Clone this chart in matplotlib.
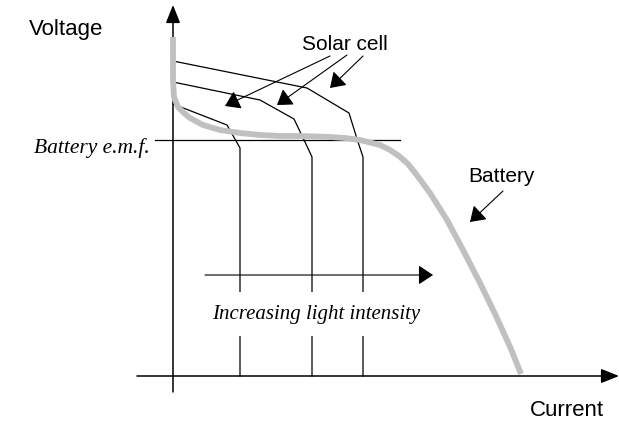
# 태양전지 / 배터리 전압-전류 특성 개념도
# ↓
# 곡선 데이터 정의
# ↓
# 그래프 그리기 -> out.png

import matplotlib
matplotlib.use("Agg")
import matplotlib.pyplot as plt

# 좌표 단위: 전류(가로), 전압(세로) - 임의 단위
# 배터리 특성 곡선 (회색 굵은 선)
battery_current = [0.0, 0.0, 0.0, 0.1, 0.5, 1.1, 1.7, 3.0, 4.7, 6.7, 8.7,
                   10.7, 12.7, 15.7, 17.2, 18.7, 20.7, 21.7, 22.6, 23.5,
                   24.3, 25.7, 27.4, 29.0, 30.7, 32.3, 33.8, 34.8]
battery_voltage = [33.9, 31.6, 29.6, 27.9, 26.9, 26.3, 25.8, 25.1, 24.6,
                   24.3, 24.1, 24.0, 24.0, 23.9, 23.8, 23.6, 23.1, 22.6,
                   22.0, 21.2, 20.2, 18.3, 15.6, 12.6, 9.3, 6.0, 2.7, 0.2]

# 태양전지 곡선 3개 (빛의 세기 증가 순)
cell1_current = [0.0, 5.4, 6.7, 6.7]
cell1_voltage = [27.2, 25.1, 22.8, 0.0]

cell2_current = [0.0, 8.7, 12.1, 13.2, 13.9, 13.9]
cell2_voltage = [29.4, 27.6, 25.7, 23.4, 21.9, 0.0]

cell3_current = [0.0, 13.4, 17.6, 18.5, 19.0, 19.0]
cell3_voltage = [31.5, 28.8, 26.3, 23.4, 21.9, 0.0]

# 배터리 기전력 (수평선)
emf_voltage = 23.6
emf_current_range = [-1.8, 22.7]

# 축 범위
x_range = [-17.3, 44.6]
y_range = [-5.2, 37.6]

SANS = "Liberation Sans"
SERIF = "Liberation Serif"


def draw_axes(ax):
    """
    화살표 달린 전류/전압 축
    """
    head = dict(arrowstyle="-|>,head_length=0.55,head_width=0.22",
                mutation_scale=20, color="black", lw=1.1,
                shrinkA=0, shrinkB=0)
    ax.annotate("", xy=(0, 37.1), xytext=(0, -1.6), arrowprops=head)
    ax.annotate("", xy=(44.6, 0), xytext=(-3.6, 0), arrowprops=head)

    ax.text(-10.7, 34.6, "Voltage", family=SANS, fontsize=16,
            ha="center", va="center")
    ax.text(39.4, -3.4, "Current", family=SANS, fontsize=16,
            ha="center", va="center")


def draw_curves(ax):
    """
    태양전지 곡선, 배터리 곡선, 기전력 선
    """
    for cx, cy in [(cell1_current, cell1_voltage),
                   (cell2_current, cell2_voltage),
                   (cell3_current, cell3_voltage)]:
        ax.plot(cx, cy, color="black", lw=0.9, zorder=2)

    ax.plot(emf_current_range, [emf_voltage, emf_voltage],
            color="black", lw=0.9, zorder=2)

    ax.plot(battery_current, battery_voltage, color="#c0c0c0", lw=4.2,
            solid_joinstyle="round", solid_capstyle="butt", zorder=3)


def draw_labels(ax):
    """
    설명 문구와 지시 화살표
    """
    small = dict(arrowstyle="-|>,head_length=0.6,head_width=0.4",
                 mutation_scale=15, color="black", lw=0.8,
                 shrinkA=0, shrinkB=0)

    ax.text(17.2, 33.1, "Solar cell", family=SANS, fontsize=15,
            ha="center", va="center")
    for start, tip in [((15.7, 32.0), (5.2, 27.0)),
                       ((17.4, 32.1), (10.4, 27.1)),
                       ((19.0, 32.0), (15.7, 28.8))]:
        ax.annotate("", xy=tip, xytext=start, arrowprops=small)

    ax.text(32.8, 20.0, "Battery", family=SANS, fontsize=15,
            ha="center", va="center")
    ax.annotate("", xy=(29.7, 15.4), xytext=(33.0, 18.5), arrowprops=small)

    ax.text(-2.3, 22.8, "Battery e.m.f.", family=SERIF, style="italic",
            fontsize=15.5, ha="right", va="center")

    # 빛의 세기 증가 화살표
    ax.annotate("", xy=(26.0, 10.1), xytext=(3.2, 10.1), arrowprops=small)
    ax.text(14.3, 6.2, "Increasing light intensity", family=SERIF,
            style="italic", fontsize=15, ha="center", va="center",
            zorder=5,
            bbox=dict(boxstyle="square,pad=0.6", fc="white", ec="none"))


def main():
    fig = plt.figure(figsize=(6.19, 4.28), dpi=100)
    ax = fig.add_axes([0, 0, 1, 1])
    ax.set_xlim(x_range)
    ax.set_ylim(y_range)
    ax.axis("off")

    draw_axes(ax)
    draw_curves(ax)
    draw_labels(ax)

    fig.savefig("out.png", dpi=100, facecolor="white")


if __name__ == "__main__":
    main()
